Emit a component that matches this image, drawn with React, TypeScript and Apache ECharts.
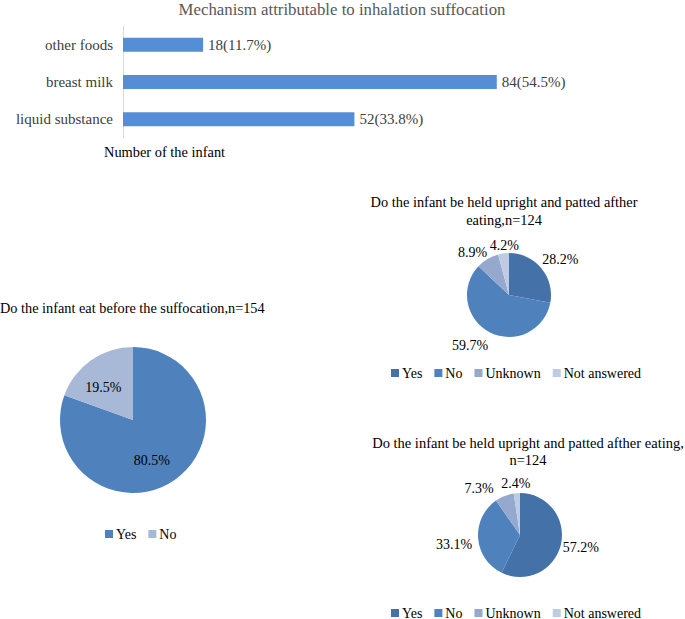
import React, { useEffect, useRef } from "react";
import * as echarts from "echarts";

const barCategories = ["liquid substance", "breast milk", "other foods"];
const barValues = [52, 84, 18];
const barLabels = ["52(33.8%)", "84(54.5%)", "18(11.7%)"];

const pie1Names = ["Yes", "No"];
const pie1Values = [80.5, 19.5];

const pie2Names = ["Yes", "No", "Unknown", "Not answered"];
const pie2Values = [28.2, 59.7, 8.9, 4.2];

const pie3Names = ["Yes", "No", "Unknown", "Not answered"];
const pie3Values = [57.2, 33.1, 7.3, 2.4];

const FONT = "Liberation Serif";
const pie1Colors = ["#4F81BD", "#A8B8D7"];
const pie4Colors = ["#4472A8", "#4F81BD", "#95A8CE", "#BFCBE2"];

// label nudges (style only), keyed by series index
const labelNudge: Record<number, [number, number][]> = {
  1: [[-4, 8], [-7, 0]],
  2: [[-7, -6], [5, 9], [14, -13], [21, -4]],
  3: [[-7, 2], [-2, 6], [9, -17], [19, -6]],
};

function txt(text: string, x: number, y: number, align: string, size = 15, fill = "#000") {
  return {
    type: "text",
    x,
    y,
    style: {
      text,
      fill,
      fontSize: size,
      fontFamily: FONT,
      align,
      verticalAlign: "middle",
      textAlign: align,
      textVerticalAlign: "middle",
    },
  };
}

export default function App() {
  const ref = useRef<HTMLDivElement>(null);
  useEffect(() => {
    if (!ref.current) return;
    const chart = echarts.init(ref.current, null, { renderer: "svg" });
    const mkLegend = (names: string[], colors: string[], left: number, top: number) => ({
      left,
      top,
      orient: "horizontal",
      icon: "rect",
      itemWidth: 8,
      itemHeight: 8,
      itemGap: 12,
      selectedMode: false,
      textStyle: { fontFamily: FONT, fontSize: 14, color: "#000", padding: [0, 0, 0, -2] },
      data: names.map((n, i) => ({ name: n, itemStyle: { color: colors[i] } })),
    });
    const lbl = { color: "#000", fontSize: 14, fontFamily: FONT };
    const nudge = (p: any) => {
      const t = labelNudge[p.seriesIndex];
      if (!t || !t[p.dataIndex]) return {};
      return { dx: t[p.dataIndex][0], dy: t[p.dataIndex][1] };
    };
    chart.setOption({
      animation: false,
      textStyle: { fontFamily: FONT },
      grid: { left: 123, top: 26, width: 445, height: 112 },
      xAxis: { type: "value", min: 0, max: 100, show: false },
      yAxis: {
        type: "category",
        data: barCategories,
        axisLine: { show: true, lineStyle: { color: "#d9d9d9" } },
        axisTick: { show: false },
        axisLabel: { color: "#404040", fontSize: 15, fontFamily: FONT, margin: 10 },
      },
      legend: [
        mkLegend(pie1Names, pie1Colors, 100, 522),
        mkLegend(pie2Names, pie4Colors, 386, 361),
        mkLegend(pie3Names, pie4Colors, 386, 601),
      ],
      series: [
        {
          type: "bar",
          data: barValues,
          barWidth: 14,
          itemStyle: { color: "#558ED5" },
          label: {
            show: true,
            position: "right",
            distance: 5,
            color: "#404040",
            fontSize: 15,
            fontFamily: FONT,
            formatter: (p: any) => barLabels[p.dataIndex],
          },
        },
        {
          type: "pie",
          center: [133, 420],
          radius: 73,
          startAngle: 90,
          data: pie1Names.map((n, i) => ({ name: n, value: pie1Values[i], itemStyle: { color: pie1Colors[i] } })),
          label: { show: true, position: "inside", formatter: "{c}%", ...lbl },
          labelLine: { show: false },
          labelLayout: nudge,
        },
        {
          type: "pie",
          center: [509, 295],
          radius: 42,
          startAngle: 90,
          data: pie2Names.map((n, i) => ({ name: n, value: pie2Values[i], itemStyle: { color: pie4Colors[i] } })),
          label: { show: true, position: "outside", formatter: "{c}%", ...lbl },
          labelLine: { show: false, length: 4, length2: 0 },
          labelLayout: nudge,
        },
        {
          type: "pie",
          center: [520, 535],
          radius: 42,
          startAngle: 90,
          data: pie3Names.map((n, i) => ({ name: n, value: pie3Values[i], itemStyle: { color: pie4Colors[i] } })),
          label: { show: true, position: "outside", formatter: "{c}%", ...lbl },
          labelLine: { show: false, length: 4, length2: 0 },
          labelLayout: nudge,
        },
      ],
      graphic: [
        txt("Mechanism attributable to inhalation suffocation", 342, 9, "center", 16.8, "#595959"),
        txt("Number of the infant", 104, 152, "left", 14.4, "#000"),
        txt("Do the infant eat before the suffocation,n=154", 0, 308, "left", 14.3, "#000"),
        txt("Do the infant be held upright and patted afther", 504, 202, "center", 14.4, "#000"),
        txt("eating,n=124", 504, 220, "center", 14.4, "#000"),
        txt("Do the infant be held upright and patted afther eating,", 528, 443, "center", 14.5, "#000"),
        txt("n=124", 528, 460, "center", 14.5, "#000"),
      ],
    });
    return () => chart.dispose();
  }, []);
  return (
    <div
      ref={ref}
      style={{ position: "absolute", left: 0, top: 0, width: 685, height: 619, background: "#fff" }}
    />
  );
}
